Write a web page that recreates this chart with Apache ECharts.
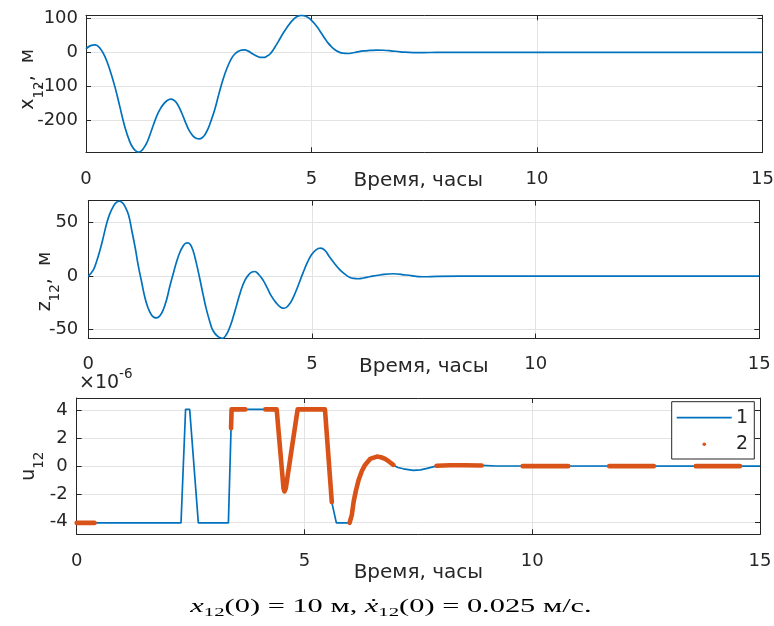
<!DOCTYPE html>
<html>
<head>
<meta charset="utf-8">
<script src="https://cdn.jsdelivr.net/npm/echarts@6/dist/echarts.min.js"></script>
<style>
html, body { margin: 0; padding: 0; background: #ffffff; }
#chart { width: 774px; height: 626px; }
</style>
</head>
<body>
<div id="chart"></div>
<script>
// ---- data -------------------------------------------------------------
// relative position x12 (m) versus time (hours)
const tX = [0, 0.09, 0.2, 0.31, 0.42, 0.53, 0.64, 0.75, 0.86, 0.97, 1.04, 1.09, 1.16, 1.22, 1.27, 1.35, 1.42, 1.50, 1.57, 1.64, 1.71, 1.80, 1.88, 1.95, 2.01, 2.08, 2.16, 2.23, 2.30, 2.37, 2.44, 2.51, 2.58, 2.64, 2.71, 2.78, 2.86, 2.93, 3.0, 3.08, 3.16, 3.23, 3.30, 3.38, 3.45, 3.52, 3.60, 3.67, 3.75, 3.82, 3.88, 3.94, 4.01, 4.08, 4.15, 4.22, 4.30, 4.37, 4.45, 4.52, 4.60, 4.67, 4.73, 4.79, 4.86, 4.93, 5.0, 5.07, 5.15, 5.22, 5.30, 5.37, 5.45, 5.52, 5.59, 5.66, 5.74, 5.81, 5.9, 6.0, 6.15, 6.29, 6.45, 6.6, 6.75, 6.97, 7.26, 7.63, 8.0, 9.0, 15];
const x12 = [10, 19, 22, 12, -13, -52, -101, -160, -219, -263, -281, -289, -294, -291, -284, -266, -242, -212, -187, -168, -154, -142, -138, -141, -149, -166, -191, -214, -233, -246, -253, -255, -251, -242, -224, -199, -166, -131, -97, -63, -36, -17, -5, 3, 6.5, 7, 3.5, -2.5, -8.5, -13, -15, -15, -11.5, -5, 7, 22, 40, 56, 72, 85, 97, 104.5, 108, 109, 107, 102, 94, 84, 70, 56, 40, 27, 15.5, 7.5, 2, -1.5, -3, -3.5, -2, 0.5, 4, 5.5, 6.5, 6, 4.5, 1.5, -1, -0.5, 0, 0, 0];

// relative position z12 (m) versus time (hours)
const tZ = [0, 0.11, 0.18, 0.26, 0.34, 0.41, 0.48, 0.56, 0.62, 0.69, 0.76, 0.82, 0.90, 0.97, 1.05, 1.12, 1.19, 1.26, 1.33, 1.41, 1.47, 1.53, 1.60, 1.67, 1.75, 1.82, 1.90, 1.97, 2.05, 2.12, 2.17, 2.22, 2.28, 2.34, 2.41, 2.49, 2.57, 2.64, 2.72, 2.79, 2.90, 3.0, 3.08, 3.16, 3.24, 3.31, 3.40, 3.5, 3.60, 3.66, 3.72, 3.81, 3.91, 4.0, 4.09, 4.2, 4.30, 4.38, 4.48, 4.58, 4.69, 4.80, 4.90, 4.99, 5.09, 5.19, 5.29, 5.39, 5.5, 5.62, 5.73, 5.84, 5.94, 6.03, 6.15, 6.29, 6.52, 6.82, 7.1, 7.49, 7.8, 8.3, 9.0, 15];
const z12 = [0, 5.6, 13, 24, 37, 49, 58, 65, 68.5, 70, 68.5, 65, 57, 43, 26, 9, -5, -19, -29, -36, -38.5, -39, -37, -32, -22, -10, 2.5, 13, 22.5, 28, 30.5, 31, 29.5, 24, 13, -2, -18, -31, -43, -51, -56.5, -58, -55, -48, -38, -28, -15, -4, 2, 3.8, 4.3, 1.5, -4, -11, -18.5, -25, -29, -30, -27, -20, -9, 3, 13, 20, 24.5, 26, 24, 18, 12, 6, 2, -1, -2.2, -2.5, -1.8, -0.6, 1, 2.2, 1, -0.6, -0.2, 0, 0, 0];

// control u12 (units of 1e-6), curve "1"
const tU = [0, 2.29, 2.39, 2.48, 2.67, 3.33, 3.40, 4.39, 4.54, 4.56, 4.59, 4.85, 5.45, 5.60, 5.70, 5.99, 6.04, 6.08, 6.13, 6.19, 6.26, 6.33, 6.44, 6.59, 6.68, 6.77, 6.86, 6.95, 7.05, 7.17, 7.39, 7.55, 7.69, 7.91, 8.2, 8.5, 8.89, 9.2, 15];
const u12 = [-4.08, -4.08, 4.08, 4.08, -4.08, -4.08, 4.08, 4.08, -1.6, -1.82, -1.6, 4.08, 4.08, -2.59, -4.08, -4.08, -3.5, -2.54, -1.75, -0.98, -0.35, 0.09, 0.52, 0.69, 0.64, 0.52, 0.32, 0.09, -0.1, -0.19, -0.31, -0.27, -0.16, 0.02, 0.07, 0.07, 0.05, 0.01, 0];

// control samples "2" (null separates the sampled intervals)
const tU2 = [0, 0.39, null,
  3.388, 3.40, 3.70, null,
  4.14, 4.39, 4.54, 4.56, 4.59, 4.85, 5.45, 5.60, null,
  5.99, 6.04, 6.08, 6.13, 6.19, 6.26, 6.33, 6.44, 6.59, 6.68, 6.77, 6.86, 6.95, null,
  7.90, 8.2, 8.5, 8.89, null,
  9.79, 10.79, null,
  11.69, 12.67, null,
  13.59, 14.56];
const u2 = [-4.08, -4.08, null,
  2.73, 4.08, 4.08, null,
  4.08, 4.08, -1.6, -1.82, -1.6, 4.08, 4.08, -2.59, null,
  -4.08, -3.5, -2.54, -1.75, -0.98, -0.35, 0.09, 0.52, 0.69, 0.64, 0.52, 0.32, 0.09, null,
  0.03, 0.07, 0.07, 0.05, null,
  0, 0, null,
  0, 0, null,
  0, 0];

const timeTicks = { min: 0, max: 15, step: 5 };
const timeLabel = 'Время, часы';
const legendNames = ['1', '2'];
const caption = '{i|x}{s|12}{r|(0) = 10 м, }{i|ẋ}{s|12}{r|(0) = 0.025 м/с.}';

// ---- styling ------------------------------------------------------------
const FONT = 'DejaVu Sans';
const INK = '#262626';
const GRIDLINE = '#e3e3e3';
const BLUE = '#0072BD';
const ORANGE = '#D95319';

const pairs = (xs, ys) => xs.map((x, i) => (x === null ? ['-', '-'] : [x, ys[i]]));

// panel layout and per-axis settings
const panels = [
  { left: 86, top: 15.3, width: 676.5, height: 137, ymin: -294.5, ymax: 109, split: 4,
    yLabelMargin: 8, xLabelMargin: 18, xNameGap: 18, xNamePad: [0, 12, 0, 0],
    yName: '{m|x}{s|12}{m|,  м}', yNameGap: 47, yNamePad: [0, 0, 0, 9] },
  { left: 88.3, top: 200.6, width: 671, height: 137.9, ymin: -58.2, ymax: 70.4, split: 3,
    yLabelMargin: 10, xLabelMargin: 17, xNameGap: 18, xNamePad: [0, 0, 0, 0],
    yName: '{m|z}{s|12}{m|,  м}', yNameGap: 33, yNamePad: [0, 24, 0, 0] },
  { left: 76.7, top: 398, width: 683.3, height: 136.3, ymin: -4.9, ymax: 4.9, split: 5,
    yLabelMargin: 9, xLabelMargin: 18, xNameGap: 28, xNamePad: [0, 0, 0, 0],
    yName: '{m|u}{s|12}', yNameGap: 37, yNamePad: [0, 0, 0, 0] }
];

const lineAxis = { show: true, onZero: false, lineStyle: { color: INK, width: 1 } };
const innerTick = { show: true, inside: true, length: 5, lineStyle: { color: INK, width: 1 } };
const labelFont = { color: INK, fontFamily: FONT, fontSize: 18 };
const nameFont = { color: INK, fontFamily: FONT, fontSize: 20 };
const nameRich = {
  m: { fontFamily: FONT, fontSize: 19, color: INK, lineHeight: 21 },
  s: { fontFamily: FONT, fontSize: 13.5, color: INK, lineHeight: 14, padding: [21, 0, 0, 0] }
};

const grids = [], xAxes = [], yAxes = [];
panels.forEach((p, g) => {
  grids.push({ left: p.left, top: p.top, width: p.width, height: p.height,
               containLabel: false, outerBoundsMode: 'none', show: false });
  const tBase = { type: 'value', gridIndex: g, min: timeTicks.min, max: timeTicks.max, interval: timeTicks.step };
  xAxes.push(Object.assign({}, tBase, {
    position: 'bottom', axisLine: lineAxis, axisTick: innerTick,
    axisLabel: Object.assign({ margin: p.xLabelMargin }, labelFont),
    splitLine: { show: true, lineStyle: { color: GRIDLINE, width: 1 } },
    name: timeLabel, nameLocation: 'middle', nameGap: p.xNameGap, nameMoveOverlap: false,
    nameTextStyle: Object.assign({ padding: p.xNamePad }, nameFont)
  }));
  xAxes.push(Object.assign({}, tBase, {
    position: 'top', axisLine: lineAxis, axisTick: innerTick,
    axisLabel: { show: false }, splitLine: { show: false }
  }));
  const yBase = { type: 'value', gridIndex: g, min: p.ymin, max: p.ymax, splitNumber: p.split };
  yAxes.push(Object.assign({}, yBase, {
    position: 'left', axisLine: lineAxis, axisTick: innerTick,
    axisLabel: Object.assign({ margin: p.yLabelMargin, showMinLabel: false, showMaxLabel: false }, labelFont),
    splitLine: { show: true, lineStyle: { color: GRIDLINE, width: 1 } },
    name: p.yName, nameLocation: 'middle', nameGap: p.yNameGap, nameRotate: 90, nameMoveOverlap: false,
    nameTextStyle: { padding: p.yNamePad, rich: nameRich }
  }));
  yAxes.push(Object.assign({}, yBase, {
    position: 'right', axisLine: lineAxis, axisTick: innerTick,
    axisLabel: { show: false }, splitLine: { show: false }
  }));
});

const option = {
  animation: false,
  backgroundColor: '#ffffff',
  grid: grids,
  xAxis: xAxes,
  yAxis: yAxes,
  series: [
    { type: 'line', xAxisIndex: 0, yAxisIndex: 0, data: pairs(tX, x12), smooth: 0.45,
      showSymbol: false, lineStyle: { color: BLUE, width: 1.7 }, z: 3 },
    { type: 'line', xAxisIndex: 2, yAxisIndex: 2, data: pairs(tZ, z12), smooth: 0.45,
      showSymbol: false, lineStyle: { color: BLUE, width: 1.7 }, z: 3 },
    { name: legendNames[0], type: 'line', xAxisIndex: 4, yAxisIndex: 4, data: pairs(tU, u12),
      showSymbol: false, lineStyle: { color: BLUE, width: 1.7 }, z: 3 },
    { name: legendNames[1], type: 'line', xAxisIndex: 4, yAxisIndex: 4, data: pairs(tU2, u2),
      showSymbol: false, connectNulls: false, clip: false,
      lineStyle: { color: ORANGE, width: 4.6, cap: 'round', join: 'round' }, z: 4 }
  ],
  graphic: [
    // legend box
    { type: 'rect', z: 100, shape: { x: 671.7, y: 401.7, width: 82.6, height: 57.3 },
      style: { fill: '#ffffff', stroke: INK, lineWidth: 1 } },
    { type: 'line', z: 101, shape: { x1: 676.7, y1: 417.7, x2: 731.7, y2: 417.7 },
      style: { stroke: BLUE, lineWidth: 1.7 } },
    { type: 'text', z: 101, x: 742, y: 417.7,
      style: { text: legendNames[0], fontFamily: FONT, fontSize: 19, fill: INK, align: 'center', verticalAlign: 'middle' } },
    { type: 'circle', z: 101, shape: { cx: 704.3, cy: 444.3, r: 1.8 }, style: { fill: ORANGE } },
    { type: 'text', z: 101, x: 742, y: 444.3,
      style: { text: legendNames[1], fontFamily: FONT, fontSize: 19, fill: INK, align: 'center', verticalAlign: 'middle' } },
    // exponent of the u12 axis
    { type: 'text', z: 101, x: 79, y: 383,
      style: { text: '{a|×10}{b|-6}', align: 'left', verticalAlign: 'middle',
        rich: { a: { fontFamily: FONT, fontSize: 19, fill: INK, lineHeight: 20 },
                b: { fontFamily: FONT, fontSize: 13.5, fill: INK, lineHeight: 14, padding: [0, 0, 17, 0] } } } },
    // caption
    { type: 'text', z: 101, x: 391, y: 607, scaleX: 1.6,
      style: { text: caption, align: 'center', verticalAlign: 'middle',
        rich: { i: { fontFamily: 'Liberation Serif', fontStyle: 'italic', fontSize: 19, fill: '#000', lineHeight: 20 },
                r: { fontFamily: 'Liberation Serif', fontSize: 19, fill: '#000', lineHeight: 20 },
                s: { fontFamily: 'Liberation Serif', fontSize: 13, fill: '#000', lineHeight: 13, padding: [12, 0, 0, 0] } } } }
  ]
};

const chart = echarts.init(document.getElementById('chart'), null, { renderer: 'canvas' });
chart.setOption(option);
</script>
</body>
</html>
